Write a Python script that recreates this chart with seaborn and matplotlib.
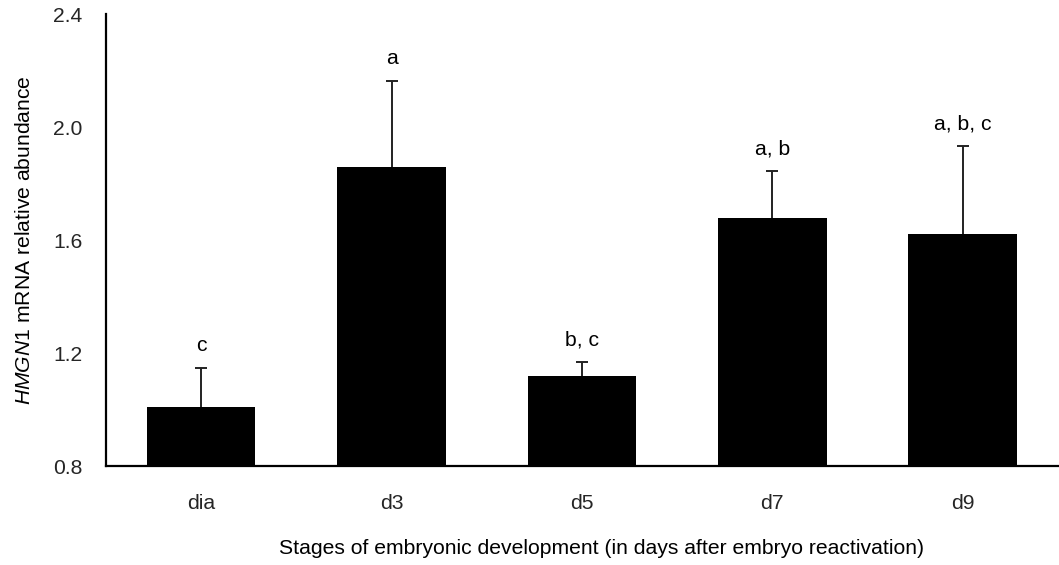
import matplotlib
matplotlib.use("Agg")
import matplotlib.pyplot as plt
import seaborn as sns
import pandas as pd
import numpy as np

stages = ["dia", "d3", "d5", "d7", "d9"]
means = [1.01, 1.86, 1.12, 1.68, 1.62]
upper_err = [0.138, 0.305, 0.048, 0.165, 0.312]
letters = ["c", "a", "b, c", "a, b", "a, b, c"]
yticks = [0.8, 1.2, 1.6, 2.0, 2.4]

sns.set_theme(style="white")
plt.rcParams['font.family'] = ['Liberation Sans', 'DejaVu Sans']
plt.rcParams['mathtext.fontset'] = 'custom'
plt.rcParams['mathtext.rm'] = 'Liberation Sans'
plt.rcParams['mathtext.it'] = 'Liberation Sans:italic'

df = pd.DataFrame({"stage": stages, "value": means})

fig = plt.figure(figsize=(10.59, 5.65), dpi=100)
ax = fig.add_axes([0.100, 0.175, 0.899, 0.800])

sns.barplot(data=df, x="stage", y="value", color="black", saturation=1,
            width=0.57, errorbar=None, ax=ax, edgecolor="black", linewidth=0,
            zorder=2)

x = np.arange(len(stages))
eb = ax.errorbar(x, means, yerr=[np.zeros(len(means)), upper_err], fmt="none",
                 ecolor="#222222", elinewidth=1.4, capsize=4.3, capthick=1.4, zorder=1)
# hide the zero-length lower caps sitting on the bar tops
for cl in eb[1]:
    if np.allclose(np.asarray(cl.get_ydata(), dtype=float), means):
        cl.set_visible(False)

fs = 15.2
for xi, m, e, lab in zip(x, means, upper_err, letters):
    ax.annotate(lab, xy=(xi, m + e), xytext=(0, 12), textcoords="offset points",
                ha="center", va="baseline", fontsize=fs, color="black")

ax.set_ylim(0.8, 2.4)
ax.set_xlim(-0.5, len(stages) - 0.5)
ax.set_yticks(yticks)
ax.set_yticklabels([f"{v:.1f}" for v in yticks], fontsize=fs)
ax.set_xticks(x)
ax.set_xticklabels(stages, fontsize=fs)
ax.tick_params(axis="x", length=0, pad=20)
ax.tick_params(axis="y", length=0, pad=17)

for s in ["top", "right"]:
    ax.spines[s].set_visible(False)
for s in ["left", "bottom"]:
    ax.spines[s].set_color("black")
    ax.spines[s].set_linewidth(1.6)

ax.set_ylabel(r"$\it{HMGN1}$ mRNA relative abundance", fontsize=fs, color="black")
ax.yaxis.set_label_coords(-0.076, 0.5)
ax.set_xlabel("Stages of embryonic development (in days after embryo reactivation)",
              fontsize=fs, color="black")
ax.xaxis.set_label_coords(0.521, -0.162)

fig.savefig("out.png", dpi=100, facecolor="white")
